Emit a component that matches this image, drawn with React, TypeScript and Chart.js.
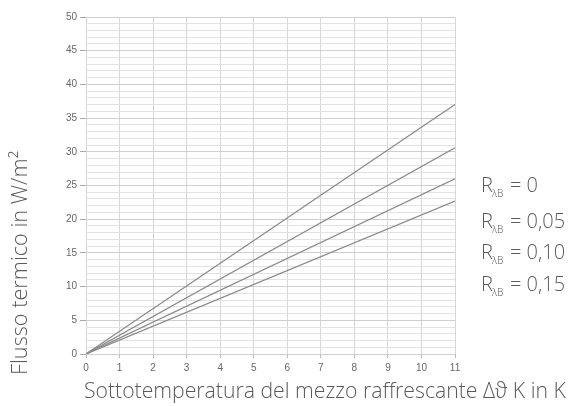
import React, { useEffect, useRef } from "react";
import { Chart, registerables } from "chart.js";

Chart.register(...registerables);

// ---- data ----
const xValues = [0, 11];
const rValues = ["0", "0,05", "0,10", "0,15"];
const seriesR000 = [0, 37];
const seriesR005 = [0, 30.6];
const seriesR010 = [0, 26];
const seriesR015 = [0, 22.7];
const allSeries = [seriesR000, seriesR005, seriesR010, seriesR015];
const xTickLabels = ["0", "1", "2", "3", "4", "5", "6", "7", "8", "9", "10", "11"];
const yTickLabels = ["0", "5", "10", "15", "20", "25", "30", "35", "40", "45", "50"];

const xTitle = "Sottotemperatura del mezzo raffrescante Δϑ K in K";
const yTitle = "Flusso termico in W/m²";

const TEXT_FONT = '"Open Sans", "Noto Sans", sans-serif';
const TEXT_COLOR = "#5a5a5a";

const annotationPlugin = {
  id: "annotations",
  afterDraw(chart: any) {
    const ctx = chart.ctx as CanvasRenderingContext2D;
    ctx.save();
    ctx.fillStyle = TEXT_COLOR;

    // x title: fit into width
    let fs = 20;
    ctx.font = `300 ${fs}px ${TEXT_FONT}`;
    const w = ctx.measureText(xTitle).width;
    fs = (fs * 482) / w;
    ctx.font = `300 ${fs}px ${TEXT_FONT}`;
    ctx.textAlign = "left";
    ctx.textBaseline = "alphabetic";
    ctx.fillText(xTitle, 84, 398);

    // y title (rotated)
    let fy = 20;
    ctx.font = `300 ${fy}px ${TEXT_FONT}`;
    const wy = ctx.measureText(yTitle).width;
    fy = (fy * 224) / wy;
    ctx.font = `300 ${fy}px ${TEXT_FONT}`;
    ctx.save();
    ctx.translate(27, 263);
    ctx.rotate(-Math.PI / 2);
    ctx.textAlign = "center";
    ctx.fillText(yTitle, 0, 0);
    ctx.restore();

    // legend
    const baselines = [192, 228, 259, 291];
    rValues.forEach((r, i) => {
      const y = baselines[i];
      let x = 481;
      ctx.textAlign = "left";
      ctx.font = `300 20px ${TEXT_FONT}`;
      ctx.fillText("R", x, y);
      x += ctx.measureText("R").width - 1;
      ctx.font = `300 10px ${TEXT_FONT}`;
      ctx.fillText("λB", x, y + 5);
      ctx.font = `300 20px ${TEXT_FONT}`;
      ctx.fillText("= " + r, 510, y);
    });
    ctx.restore();
  },
};

export default function App() {
  const ref = useRef<HTMLCanvasElement | null>(null);

  useEffect(() => {
    if (!ref.current) return;
    const datasets = allSeries.map((s, i) => ({
      label: "R = " + rValues[i],
      data: s.map((v, j) => ({ x: xValues[j], y: v })),
      borderColor: "#8a8a8a",
      borderWidth: 1.2,
      pointRadius: 0,
      fill: false,
      tension: 0,
    }));
    const chart = new Chart(ref.current, {
      type: "line",
      data: { datasets },
      plugins: [annotationPlugin],
      options: {
        responsive: false,
        animation: false,
        layout: { padding: { top: 17, right: 116, left: 0, bottom: 0 } },
        plugins: { legend: { display: false }, tooltip: { enabled: false } },
        scales: {
          x: {
            type: "linear",
            min: 0,
            max: 11,
            afterFit: (s: any) => {
              s.height = 52;
            },
            afterBuildTicks: (s: any) => {
              s.ticks = xTickLabels.map((t) => ({ value: Number(t) }));
            },
            ticks: {
              autoSkip: false,
              maxRotation: 0,
              padding: 4,
              color: "#666",
              font: { family: '"Liberation Sans", Arial, sans-serif', size: 10 },
              callback: (v: any) => String(v),
            },
            grid: {
              color: "#d6d6d6",
              lineWidth: 1,
              tickLength: 4,
              tickColor: "#bbb",
            },
            border: { display: false },
          },
          y: {
            type: "linear",
            min: 0,
            max: 50,
            afterFit: (s: any) => {
              s.width = 86;
            },
            afterBuildTicks: (s: any) => {
              const arr: any[] = [];
              for (let v = 0; v <= 50; v++) arr.push({ value: v });
              s.ticks = arr;
            },
            ticks: {
              autoSkip: false,
              padding: 3,
              color: "#666",
              font: { family: '"Liberation Sans", Arial, sans-serif', size: 10 },
              callback: (v: any) => (yTickLabels.includes(String(v)) ? String(v) : ""),
            },
            grid: {
              color: (c: any) => (c.tick && c.tick.value % 5 === 0 ? "#cfcfcf" : "#e2e2e2"),
              lineWidth: 1,
              tickLength: 6,
              tickColor: (c: any) => (c.tick && c.tick.value % 5 === 0 ? "#aaa" : "transparent"),
            },
            border: { display: false },
          },
        },
      },
    } as any);
    return () => chart.destroy();
  }, []);

  return (
    <div style={{ position: "fixed", left: 0, top: 0, width: 571, height: 406, background: "#fff" }}>
      <canvas ref={ref} width={571} height={406} style={{ display: "block", width: 571, height: 406 }} />
    </div>
  );
}
